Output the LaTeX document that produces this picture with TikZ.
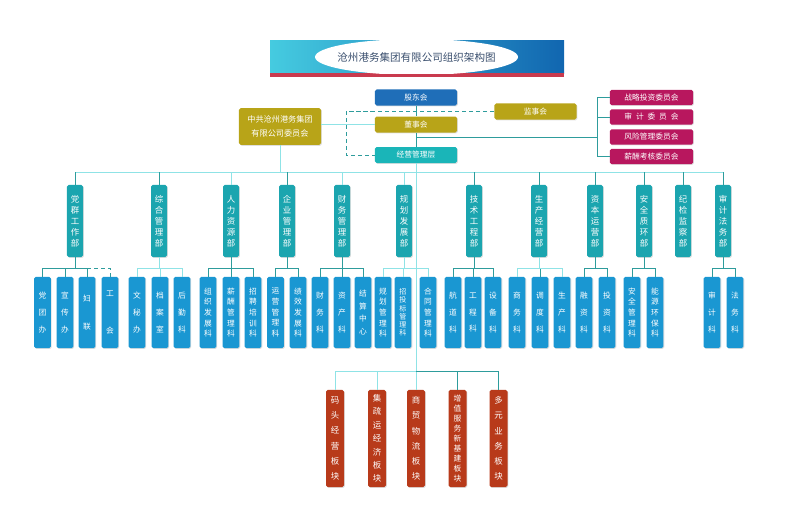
\documentclass[tikz,border=0pt]{standalone}
\usepackage{fontspec}
\setmainfont{Noto Sans CJK SC}
\usetikzlibrary{shadows}

\definecolor{bannercyan}{HTML}{45CBE0}
\definecolor{bannerblue}{HTML}{1166B0}
\definecolor{bannerred}{HTML}{C93A4E}
\definecolor{titlegray}{HTML}{3A4F6E}
\definecolor{meetblue}{HTML}{1F6EB8}
\definecolor{olive}{HTML}{B8A418}
\definecolor{mgmtteal}{HTML}{1AB5B8}
\definecolor{magentabox}{HTML}{B8175E}
\definecolor{deptteal}{HTML}{1BA5AF}
\definecolor{subblue}{HTML}{1A97D2}
\definecolor{rustred}{HTML}{B83A1A}
\definecolor{linkteal}{HTML}{2E9C9C}
\definecolor{linklight}{HTML}{8FE3E6}

\begin{document}
\begin{tikzpicture}[x=0.025cm, y=-0.025cm,
    box/.style={rounded corners=1.2pt, inner sep=0pt, text=white, align=center,
        drop shadow={opacity=0.25, shadow xshift=0.6pt, shadow yshift=-0.6pt}},
    topbox/.style={box, minimum width=2.05cm, minimum height=0.4cm, font=\fontsize{5.5}{7}\selectfont},
    combox/.style={box, fill=magentabox, minimum width=2.08cm, minimum height=0.38cm, font=\fontsize{5.5}{7}\selectfont},
    dept/.style={box, fill=deptteal, minimum width=0.4cm, minimum height=1.8cm, font=\fontsize{6}{7.8}\selectfont},
    sub/.style={box, fill=subblue, minimum width=0.42cm, minimum height=1.78cm, font=\fontsize{5.5}{7.6}\selectfont},
    s2/.style={font=\fontsize{5.5}{20}\selectfont},
    s3/.style={font=\fontsize{5.5}{12}\selectfont},
    s4/.style={font=\fontsize{5.5}{9}\selectfont},
    s6/.style={font=\fontsize{5}{5.9}\selectfont},
    plate/.style={box, fill=rustred, minimum width=0.45cm, minimum height=2.43cm, font=\fontsize{6}{10.8}\selectfont},
    link/.style={draw=linkteal, line width=0.5pt},
    lightlink/.style={draw=linklight, line width=0.6pt},
    dlink/.style={draw=linkteal, line width=0.5pt, dashed, dash pattern=on 3pt off 2pt}]

    \useasboundingbox (0,0) rectangle (800,526);

    \shade[left color=bannercyan, right color=bannerblue] (270,40) rectangle (564,73);
    \fill[bannerred] (270,73) rectangle (564,77);
    \begin{scope}
        \clip (270,40) rectangle (564,73);
        \fill[white] (416.5,57) ellipse (101.5 and 18);
    \end{scope}
    \node[text=titlegray, font=\fontsize{7.5}{9}\selectfont] (title) at (416.5,57) {沧州港务集团有限公司组织架构图};

    \node[topbox, fill=meetblue] (sh) at (416,97.5) {股东会};
    \node[topbox, fill=olive] (sup) at (535.5,111.5) {监事会};
    \node[topbox, fill=olive] (bod) at (416,124.5) {董事会};
    \node[topbox, fill=mgmtteal] (gm) at (416,155) {经营管理层};
    \node[box, fill=olive, minimum width=2.05cm, minimum height=0.92cm, font=\fontsize{5.8}{9.5}\selectfont] (party) at (280,126.5) {中共沧州港务集团\\有限公司委员会};

    \node[combox] (c1) at (651.5,97.5) {战略投资委员会};
    \node[combox] (c2) at (651.5,117) {审\hspace{0.5em}计\hspace{0.5em}委\hspace{0.5em}员\hspace{0.5em}会};
    \node[combox] (c3) at (651.5,137) {风险管理委员会};
    \node[combox] (c4) at (651.5,156.5) {薪酬考核委员会};

    \node[dept] (d1) at (75,221) {党\\群\\工\\作\\部};
    \node[dept] (d2) at (159,221) {综\\合\\管\\理\\部};
    \node[dept] (d3) at (231,221) {人\\力\\资\\源\\部};
    \node[dept] (d4) at (287,221) {企\\业\\管\\理\\部};
    \node[dept] (d5) at (342,221) {财\\务\\管\\理\\部};
    \node[dept] (d6) at (404,221) {规\\划\\发\\展\\部};
    \node[dept] (d7) at (474,221) {技\\术\\工\\程\\部};
    \node[dept] (d8) at (539,221) {生\\产\\经\\营\\部};
    \node[dept] (d9) at (595,221) {资\\本\\运\\营\\部};
    \node[dept] (d10) at (644,221) {安\\全\\质\\环\\部};
    \node[dept] (d11) at (683,221) {纪\\检\\监\\察\\部};
    \node[dept] (d12) at (723,221) {审\\计\\法\\务\\部};

    \node[sub, s3] (s1a) at (42.5,312.5) {党\\团\\办};
    \node[sub, s3] (s1b) at (65,312.5) {宣\\传\\办};
    \node[sub, s2] (s1c) at (87,312.5) {妇\\联};
    \node[sub, s2] (s1d) at (110,312.5) {工\\[6pt]会};
    \node[sub, s3] (s2a) at (137,312.5) {文\\秘\\办};
    \node[sub, s3] (s2b) at (160,312.5) {档\\案\\室};
    \node[sub, s3] (s2c) at (182,312.5) {后\\勤\\科};
    \node[sub] (s3a) at (208,312.5) {组\\织\\发\\展\\科};
    \node[sub] (s3b) at (231,312.5) {薪\\酬\\管\\理\\科};
    \node[sub] (s3c) at (253,312.5) {招\\聘\\培\\训\\科};
    \node[sub] (s4a) at (275.5,312.5) {运\\营\\管\\理\\科};
    \node[sub] (s4b) at (298,312.5) {绩\\效\\发\\展\\科};
    \node[sub, s3] (s5a) at (320,312.5) {财\\务\\科};
    \node[sub, s3] (s5b) at (342,312.5) {资\\产\\科};
    \node[sub, s4] (s5c) at (363,312.5) {结\\算\\中\\心};
    \node[sub] (s6a) at (383,312.5) {规\\划\\管\\理\\科};
    \node[sub, s6] (s6b) at (403,312.5) {招\\投\\标\\管\\理\\科};
    \node[sub] (s6c) at (428,312.5) {合\\同\\管\\理\\科};
    \node[sub, s3] (s7a) at (453,312.5) {航\\道\\科};
    \node[sub, s3] (s7b) at (473,312.5) {工\\程\\科};
    \node[sub, s3] (s7c) at (493,312.5) {设\\备\\科};
    \node[sub, s3] (s8a) at (517,312.5) {商\\务\\科};
    \node[sub, s3] (s8b) at (540,312.5) {调\\度\\科};
    \node[sub, s3] (s8c) at (562,312.5) {生\\产\\科};
    \node[sub, s3] (s9a) at (584,312.5) {融\\资\\科};
    \node[sub, s3] (s9b) at (607,312.5) {投\\资\\科};
    \node[sub] (s10a) at (632,312.5) {安\\全\\管\\理\\科};
    \node[sub] (s10b) at (655,312.5) {能\\源\\环\\保\\科};
    \node[sub, s3] (s12a) at (712,312.5) {审\\计\\科};
    \node[sub, s3] (s12b) at (735,312.5) {法\\务\\科};

    \node[plate] (r1) at (335,438.5) {码\\头\\经\\营\\板\\块};
    \node[plate, font=\fontsize{6}{9.5}\selectfont] (r2) at (377,438.5) {集\\疏\\运\\经\\济\\板\\块};
    \node[plate] (r3) at (416,438.5) {商\\贸\\物\\流\\板\\块};
    \node[plate, font=\fontsize{5.5}{7.1}\selectfont] (r4) at (457.5,438.5) {增\\值\\服\\务\\新\\基\\建\\板\\块};
    \node[plate] (r5) at (498.5,438.5) {多\\元\\业\\务\\板\\块};

    \coordinate (mb) at (0,172);
    \coordinate (sb) at (0,268);
    \coordinate (rb) at (0,371);
    \coordinate (cj) at (416,137);
    \coordinate (cb) at (597,137);
    \coordinate (dk) at (346,155);

    \draw[link] (sh.south) -- (bod.north);
    \draw[link] (bod.south) -- (gm.north);
    \draw[lightlink] (gm.south) -- (gm.south |- rb);
    \draw[lightlink] (party.east |- bod.west) -- (bod.west);
    \draw[dlink] (sup.west) -| (dk) -- (gm.west);
    \draw[link] (cj) -- (cb);
    \draw[link] (c1.west) -| (cb) |- (c4.west);
    \draw[link] (c2.west) -- (c2.west -| cb);

    \draw[lightlink] (party.south) -- (party.south |- mb);
    \draw[lightlink] (d1.north |- mb) -- (d12.north |- mb);
    \draw[link] (d1.north) -- (d1.north |- mb);
    \draw[link] (d2.north) -- (d2.north |- mb);
    \draw[lightlink] (d3.north) -- (d3.north |- mb);
    \draw[link] (d4.north) -- (d4.north |- mb);
    \draw[lightlink] (d5.north) -- (d5.north |- mb);
    \draw[lightlink] (d6.north) -- (d6.north |- mb);
    \draw[link] (d7.north) -- (d7.north |- mb);
    \draw[link] (d8.north) -- (d8.north |- mb);
    \draw[link] (d9.north) -- (d9.north |- mb);
    \draw[link] (d10.north) -- (d10.north |- mb);
    \draw[link] (d11.north) -- (d11.north |- mb);
    \draw[link] (d12.north) -- (d12.north |- mb);

    \draw[link] (d1.south) -- (d1.south |- sb) -| (s1a.north);
    \draw[link] (d1.south |- sb) -| (s1b.north);
    \draw[link] (d1.south |- sb) -| (s1c.north);
    \draw[dlink] (s1c.north |- sb) -| (s1d.north);
    \draw[lightlink] (d2.south) -- (d2.south |- sb) -| (s2a.north);
    \draw[lightlink] (d2.south |- sb) -| (s2b.north);
    \draw[lightlink] (d2.south |- sb) -| (s2c.north);
    \draw[link] (d3.south) -- (d3.south |- sb) -| (s3a.north);
    \draw[link] (d3.south |- sb) -| (s3b.north);
    \draw[link] (d3.south |- sb) -| (s3c.north);
    \draw[link] (d4.south) -- (d4.south |- sb) -| (s4a.north);
    \draw[link] (d4.south |- sb) -| (s4b.north);
    \draw[link] (d5.south) -- (d5.south |- sb) -| (s5a.north);
    \draw[link] (d5.south |- sb) -| (s5b.north);
    \draw[link] (d5.south |- sb) -| (s5c.north);
    \draw[lightlink] (d6.south) -- (d6.south |- sb) -| (s6a.north);
    \draw[lightlink] (d6.south |- sb) -| (s6b.north);
    \draw[lightlink] (d6.south |- sb) -| (s6c.north);
    \draw[link] (d7.south) -- (d7.south |- sb) -| (s7a.north);
    \draw[link] (d7.south |- sb) -| (s7b.north);
    \draw[link] (d7.south |- sb) -| (s7c.north);
    \draw[lightlink] (d8.south) -- (d8.south |- sb) -| (s8a.north);
    \draw[link] (d8.south |- sb) -| (s8b.north);
    \draw[lightlink] (d8.south |- sb) -| (s8c.north);
    \draw[link] (d9.south) -- (d9.south |- sb) -| (s9a.north);
    \draw[link] (d9.south |- sb) -| (s9b.north);
    \draw[link] (d10.south) -- (d10.south |- sb) -| (s10a.north);
    \draw[link] (d10.south |- sb) -| (s10b.north);
    \draw[link] (d12.south) -- (d12.south |- sb) -| (s12a.north);
    \draw[link] (d12.south |- sb) -| (s12b.north);

    \draw[lightlink] (r3.north |- rb) -| (r1.north);
    \draw[lightlink] (r3.north |- rb) -| (r2.north);
    \draw[lightlink] (r3.north |- rb) -- (r3.north);
    \draw[link] (r3.north |- rb) -| (r4.north);
    \draw[link] (r3.north |- rb) -| (r5.north);
\end{tikzpicture}
\end{document}
